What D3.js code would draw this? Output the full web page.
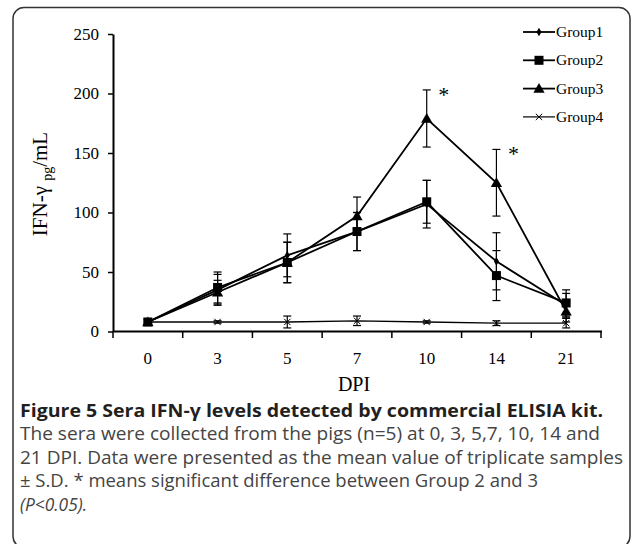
<!DOCTYPE html>
<html>
<head>
<meta charset="utf-8">
<script src="https://cdn.jsdelivr.net/npm/d3@7"></script>
<style>
  body { margin: 0; background: #fff; }
  svg { display: block; }
</style>
</head>
<body>
<svg id="chart" width="632" height="544"></svg>
<script>
// data
const days = ['0', '3', '5', '7', '10', '14', '21'];
const groupNames = ['Group1', 'Group2', 'Group3', 'Group4'];
const group1 = [8, 35, 64, 84, 107, 59, 22];
const group1Sd = [2, 13, 18, 16, 20, 24, 10];
const group2 = [8, 37, 58, 84, 109, 47, 24];
const group2Sd = [2, 13, 17, 16, 18, 21, 11];
const group3 = [8, 33, 58, 97, 179, 125, 17];
const group3Sd = [2, 10, 17, 16, 24, 28, 9];
const group4 = [8, 8, 8, 9, 8, 7, 7];
const group4Sd = [1, 1, 5, 4, 1, 2, 4];
const yTicks = [0, 50, 100, 150, 200, 250];
const starDays = [['10', 203], ['14', 153]];

const series = [
  { name: groupNames[0], values: group1, sd: group1Sd, marker: 'diamond' },
  { name: groupNames[1], values: group2, sd: group2Sd, marker: 'square' },
  { name: groupNames[2], values: group3, sd: group3Sd, marker: 'triangle' },
  { name: groupNames[3], values: group4, sd: group4Sd, marker: 'cross' }
];

const svg = d3.select('#chart');
const serif = '"Liberation Serif", "Times New Roman", serif';
const sans = '"Open Sans", "Noto Sans", sans-serif';

// frame
svg.append('rect')
  .attr('x', 13).attr('y', 7.5)
  .attr('width', 617).attr('height', 540)
  .attr('rx', 11)
  .attr('fill', 'none')
  .attr('stroke', '#333')
  .attr('stroke-width', 1.5);

const x = d3.scaleBand().domain(days).range([113, 601]);
const y = d3.scaleLinear().domain([0, 250]).range([331.5, 34]);
const cx = d => x(d) + x.bandwidth() / 2;

// y axis
const yAxis = svg.append('g')
  .attr('transform', 'translate(113,0)')
  .call(d3.axisLeft(y).tickValues(yTicks).tickSize(5).tickPadding(9).tickSizeOuter(0));
yAxis.select('.domain').attr('stroke', '#000').attr('stroke-width', 2);
yAxis.selectAll('.tick line').attr('stroke', '#000').attr('stroke-width', 1.5);
yAxis.selectAll('.tick text')
  .attr('font-family', serif).attr('font-size', 17).attr('fill', '#000');

// x axis: labels centred in bands, ticks at band edges
const xAxis = svg.append('g')
  .attr('transform', 'translate(0,331.5)')
  .call(d3.axisBottom(x).tickSize(0).tickPadding(20));
xAxis.select('.domain').remove();
xAxis.selectAll('.tick text')
  .attr('font-family', serif).attr('font-size', 17).attr('fill', '#000');
svg.append('line')
  .attr('x1', 113).attr('x2', x.range()[1] + 1)
  .attr('y1', 331.5).attr('y2', 331.5)
  .attr('stroke', '#000').attr('stroke-width', 2);
svg.append('g').selectAll('line')
  .data(days.map(d => x(d)).concat([x.range()[1]]))
  .join('line')
  .attr('x1', d => d).attr('x2', d => d)
  .attr('y1', 331.5).attr('y2', 338)
  .attr('stroke', '#000').attr('stroke-width', 1.5);

// axis titles
const yLabel = svg.append('text')
  .attr('transform', 'translate(47,184) rotate(-90)')
  .attr('text-anchor', 'middle')
  .attr('font-family', serif).attr('font-size', 21).attr('fill', '#000');
yLabel.append('tspan').text('IFN-γ ');
yLabel.append('tspan').attr('font-size', 14).attr('dy', 5).text('pg');
yLabel.append('tspan').attr('dy', -5).text('/mL');

svg.append('text')
  .attr('x', 354).attr('y', 391)
  .attr('text-anchor', 'middle')
  .attr('font-family', serif).attr('font-size', 20).attr('fill', '#000')
  .text('DPI');

// markers
function drawMarker(g, type, px, py) {
  if (type === 'diamond') {
    g.append('path').attr('d', d3.symbol(d3.symbolDiamond, 22)())
      .attr('transform', `translate(${px},${py})`).attr('fill', '#000');
  } else if (type === 'square') {
    g.append('rect').attr('x', px - 4.5).attr('y', py - 4.5)
      .attr('width', 9).attr('height', 9).attr('fill', '#000');
  } else if (type === 'triangle') {
    g.append('path').attr('d', d3.symbol(d3.symbolTriangle, 55)())
      .attr('transform', `translate(${px},${py + 1})`).attr('fill', '#000');
  } else {
    g.append('path').attr('d', d3.symbol(d3.symbolX, 28)())
      .attr('transform', `translate(${px},${py})`)
      .attr('fill', 'none').attr('stroke', '#000').attr('stroke-width', 1);
  }
}

const line = d3.line().x(d => cx(d.day)).y(d => y(d.v));
const plot = svg.append('g');

series.forEach(s => {
  const pts = days.map((d, i) => ({ day: d, v: s.values[i], sd: s.sd[i] }));
  const g = plot.append('g');
  // error bars
  pts.forEach(p => {
    const px = cx(p.day);
    g.append('line').attr('x1', px).attr('x2', px)
      .attr('y1', y(p.v + p.sd)).attr('y2', y(p.v - p.sd))
      .attr('stroke', '#000').attr('stroke-width', 1.2);
    [p.v + p.sd, p.v - p.sd].forEach(v => {
      g.append('line').attr('x1', px - 4).attr('x2', px + 4)
        .attr('y1', y(v)).attr('y2', y(v))
        .attr('stroke', '#000').attr('stroke-width', 1.2);
    });
  });
  g.append('path').datum(pts)
    .attr('d', line)
    .attr('fill', 'none')
    .attr('stroke', '#000')
    .attr('stroke-width', s.marker === 'cross' ? 1.3 : 1.8);
  pts.forEach(p => drawMarker(g, s.marker, cx(p.day), y(p.v)));
});

// significance stars
svg.append('g').selectAll('text')
  .data(starDays)
  .join('text')
  .attr('x', d => cx(d[0]) + 17)
  .attr('y', d => y(d[1]) + 12)
  .attr('text-anchor', 'middle')
  .attr('font-family', serif).attr('font-size', 22).attr('fill', '#000')
  .text('*');

// legend
const legend = svg.append('g');
series.forEach((s, i) => {
  const ly = 32 + i * 28.3;
  legend.append('line').attr('x1', 523).attr('x2', 555)
    .attr('y1', ly).attr('y2', ly)
    .attr('stroke', '#000').attr('stroke-width', s.marker === 'cross' ? 1.2 : 1.8);
  drawMarker(legend, s.marker, 539, ly);
  legend.append('text')
    .attr('x', 556).attr('y', ly + 5)
    .attr('font-family', serif).attr('font-size', 15.5).attr('fill', '#000')
    .text(s.name);
});

// caption
const caption = svg.append('g').attr('font-family', sans);
caption.append('text')
  .attr('x', 20).attr('y', 417)
  .attr('font-size', 18).attr('font-weight', 'bold').attr('fill', '#231f20')
  .attr('textLength', 583).attr('lengthAdjust', 'spacingAndGlyphs')
  .text('Figure 5 Sera IFN-γ levels detected by commercial ELISIA kit.');
const captionLines = [
  ['The sera were collected from the pigs (n=5) at 0, 3, 5,7, 10, 14 and', 580],
  ['21 DPI. Data were presented as the mean value of triplicate samples', 603],
  ['± S.D. * means significant difference between Group 2 and 3', 518]
];
captionLines.forEach((t, i) => {
  caption.append('text')
    .attr('x', 20).attr('y', 440 + i * 23.7)
    .attr('font-size', 18.5).attr('fill', '#444')
    .attr('textLength', t[1]).attr('lengthAdjust', 'spacingAndGlyphs')
    .text(t[0]);
});
caption.append('text')
  .attr('x', 20).attr('y', 511)
  .attr('font-size', 18.5).attr('font-style', 'italic').attr('fill', '#444')
  .attr('textLength', 67).attr('lengthAdjust', 'spacingAndGlyphs')
  .text('(P<0.05).');
</script>
</body>
</html>
